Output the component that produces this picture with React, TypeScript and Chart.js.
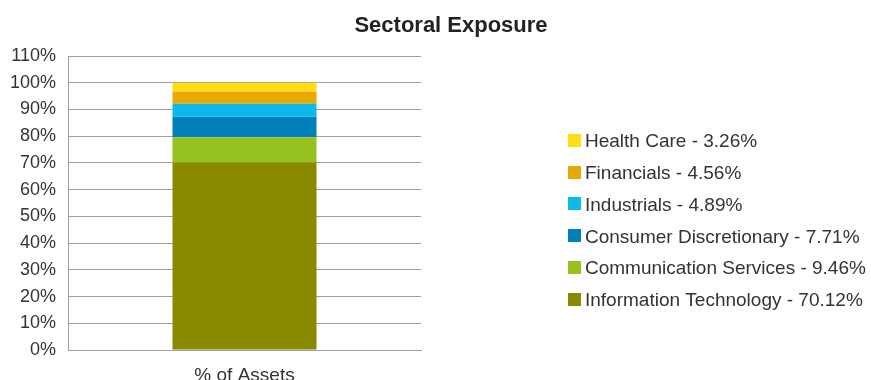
import React, { useEffect, useRef } from "react";
import { Chart, registerables } from "chart.js";

Chart.register(...registerables);

const categories = ["% of Assets"];
const sectorNames = [
  "Information Technology",
  "Communication Services",
  "Consumer Discretionary",
  "Industrials",
  "Financials",
  "Health Care",
];
const sectorValues = [70.12, 9.46, 7.71, 4.89, 4.56, 3.26];
const sectorColors = ["#8A8A00", "#96C11F", "#0081BA", "#0FB8EC", "#E8AA00", "#FFDC14"];
const yTicks = [0, 10, 20, 30, 40, 50, 60, 70, 80, 90, 100, 110];
const chartTitle = "Sectoral Exposure";

const FONT = "'Liberation Sans', Arial, Helvetica, sans-serif";

const customPlugin = {
  id: "customDecor",
  afterDraw(chart: any) {
    const ctx = chart.ctx;
    ctx.save();
    // title
    ctx.fillStyle = "#222222";
    ctx.font = `bold 22px ${FONT}`;
    ctx.textAlign = "center";
    ctx.textBaseline = "alphabetic";
    ctx.fillText(chartTitle, 451, 32);
    // legend (reversed)
    ctx.font = `19px ${FONT}`;
    ctx.textAlign = "left";
    const n = chart.data.datasets.length;
    for (let k = 0; k < n; k++) {
      const i = n - 1 - k;
      const ds = chart.data.datasets[i];
      const cy = 140.3 + k * 31.8;
      ctx.fillStyle = ds.backgroundColor as string;
      ctx.fillRect(568, Math.round(cy - 6.5), 13, 13);
      ctx.fillStyle = "#333333";
      ctx.fillText(ds.label as string, 585, cy + 6.8);
    }
    ctx.restore();
  },
};

export default function App() {
  const ref = useRef<HTMLCanvasElement | null>(null);
  useEffect(() => {
    if (!ref.current) return;
    const chart = new Chart(ref.current, {
      type: "bar",
      data: {
        labels: categories,
        datasets: sectorNames.map((name, i) => ({
          label: `${name} - ${sectorValues[i].toFixed(2)}%`,
          data: [sectorValues[i]],
          backgroundColor: sectorColors[i],
          borderWidth: 0,
          categoryPercentage: 1,
          barPercentage: 0.408,
        })),
      },
      options: {
        animation: false,
        responsive: false,
        maintainAspectRatio: false,
        devicePixelRatio: 1,
        layout: { padding: { top: 56, right: 450, bottom: 0, left: 0 } },
        plugins: {
          legend: { display: false },
          title: { display: false },
          tooltip: { enabled: false },
        },
        scales: {
          x: {
            stacked: true,
            grid: { display: false, drawTicks: false },
            border: { display: true, color: "#a0a0a0", width: 1 },
            ticks: { color: "#333333", font: { family: FONT, size: 19 }, padding: 14 },
            afterFit: (s: any) => {
              s.height = 30;
            },
          },
          y: {
            stacked: true,
            min: 0,
            max: 110,
            afterBuildTicks: (s: any) => {
              s.ticks = yTicks.map((v) => ({ value: v }));
            },
            grid: { color: "#a0a0a0", lineWidth: 1, drawTicks: false },
            border: { display: true, color: "#a0a0a0", width: 1 },
            ticks: {
              color: "#333333",
              font: { family: FONT, size: 18 },
              padding: 12,
              callback: (v: any) => `${v}%`,
            },
            afterFit: (s: any) => {
              s.width = 68;
            },
          },
        },
      },
      plugins: [customPlugin],
    });
    return () => chart.destroy();
  }, []);
  return (
    <div style={{ position: "absolute", left: 0, top: 0, width: 871, height: 380, background: "#fff" }}>
      <canvas ref={ref} width={871} height={380} style={{ display: "block" }} />
    </div>
  );
}
